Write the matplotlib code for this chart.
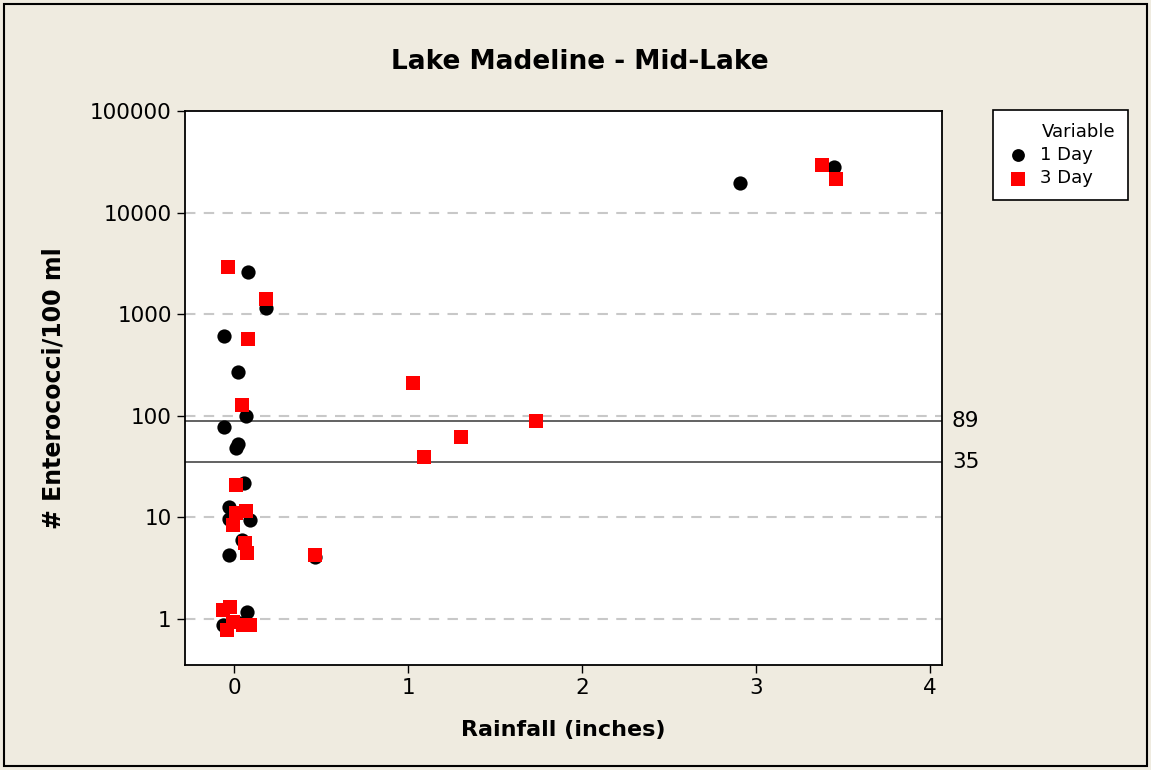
import matplotlib
matplotlib.use("Agg")
import matplotlib.pyplot as plt
from matplotlib.ticker import FixedLocator, NullLocator, FixedFormatter

# Data (rainfall inches, enterococci / 100 ml)
day1_x = [0.079, 0.184, -0.059, 0.021, 0.067, -0.059, 0.025, 0.010, 0.059,
          -0.027, -0.027, 0.092, 0.044, -0.027, -0.065, 0.073, 0.034,
          0.466, 2.906, 3.447]
day1_y = [2620, 1143, 614, 272, 100, 77, 53, 48, 21.7,
          12.7, 9.6, 9.4, 6.0, 4.26, 0.87, 1.18, 0.91,
          4.1, 19420, 27910]

day3_x = [-0.036, 0.182, 0.079, 0.044, 0.010, 0.067, 0.010, -0.004, 0.063,
          0.076, -0.061, -0.023, -0.042, -0.004, 0.092, 0.053,
          0.466, 1.029, 1.092, 1.305, 1.736, 3.377, 3.458]
day3_y = [2897, 1402, 566, 128, 20.8, 11.6, 11.0, 8.4, 5.56,
          4.43, 1.23, 1.32, 0.78, 0.94, 0.87, 0.87,
          4.26, 210, 39.3, 61.8, 88.9, 29230, 21260]

ref_values = [89, 35]
ref_labels = ["89", "35"]
y_ticks = [1, 10, 100, 1000, 10000, 100000]
y_ticklabels = ["1", "10", "100", "1000", "10000", "100000"]
x_ticks = [0, 1, 2, 3, 4]
x_ticklabels = ["0", "1", "2", "3", "4"]

bg = "#EFEBE0"
fig = plt.figure(figsize=(11.51, 7.70), dpi=100, facecolor=bg)
ax = fig.add_axes([185/1151, 1-665/770, (942-185)/1151, (665-111)/770])
ax.set_facecolor("white")

ax.set_yscale("log")
ax.set_ylim(10**(-(665-619)/101.6), 100000)
ax.set_xlim(-0.282, 4.069)

for v in [10, 100, 1000, 10000, 1]:
    ax.axhline(v, color="#C8C8C8", lw=1.5, ls=(0, (5, 4)), zorder=1)

for v, lab in zip(ref_values, ref_labels):
    ax.axhline(v, color="#555555", lw=1.3, zorder=2)
    ax.text(1.013, v, lab, transform=ax.get_yaxis_transform(), ha="left",
            va="center", fontsize=15.5, color="black")

ax.scatter(day1_x, day1_y, s=105, marker="o", color="black", zorder=3,
           linewidths=0, label="1 Day")
ax.scatter(day3_x, day3_y, s=115, marker="s", color="#FF0000", zorder=4,
           linewidths=0, label="3 Day")

ax.yaxis.set_major_locator(FixedLocator(y_ticks))
ax.yaxis.set_major_formatter(FixedFormatter(y_ticklabels))
ax.yaxis.set_minor_locator(NullLocator())
ax.set_xticks(x_ticks)
ax.set_xticklabels(x_ticklabels)
ax.tick_params(axis="both", labelsize=15.5, direction="out", length=6, width=1)

for sp in ax.spines.values():
    sp.set_linewidth(1.3)

ax.set_xlabel("Rainfall (inches)", fontsize=16, fontweight="bold", labelpad=16)
ax.set_ylabel("# Enterococci/100 ml", fontsize=17, fontweight="bold", labelpad=18)
fig.text(580/1151, 1-62/770, "Lake Madeline - Mid-Lake", fontsize=19,
         fontweight="bold", ha="center", va="center")

leg = fig.legend(loc="upper left",
                 bbox_to_anchor=(993/1151, 1-110/770, 135/1151, 0),
                 mode="expand",
                 title="Variable", fontsize=13, title_fontsize=13,
                 frameon=True, fancybox=False, edgecolor="black",
                 framealpha=1, facecolor="white",
                 handletextpad=0.5, borderpad=0.7, labelspacing=0.3,
                 handlelength=1.4, markerscale=0.9, borderaxespad=0)
leg.get_frame().set_linewidth(1.2)
leg._legend_box.align = "right"

# figure border
fig.patches.append(plt.Rectangle((4/1151, 4/770), 1-8/1151, 1-8/770,
                                 transform=fig.transFigure, fill=False,
                                 edgecolor="black", lw=1.5))

fig.savefig("out.png", dpi=100, facecolor=bg)
